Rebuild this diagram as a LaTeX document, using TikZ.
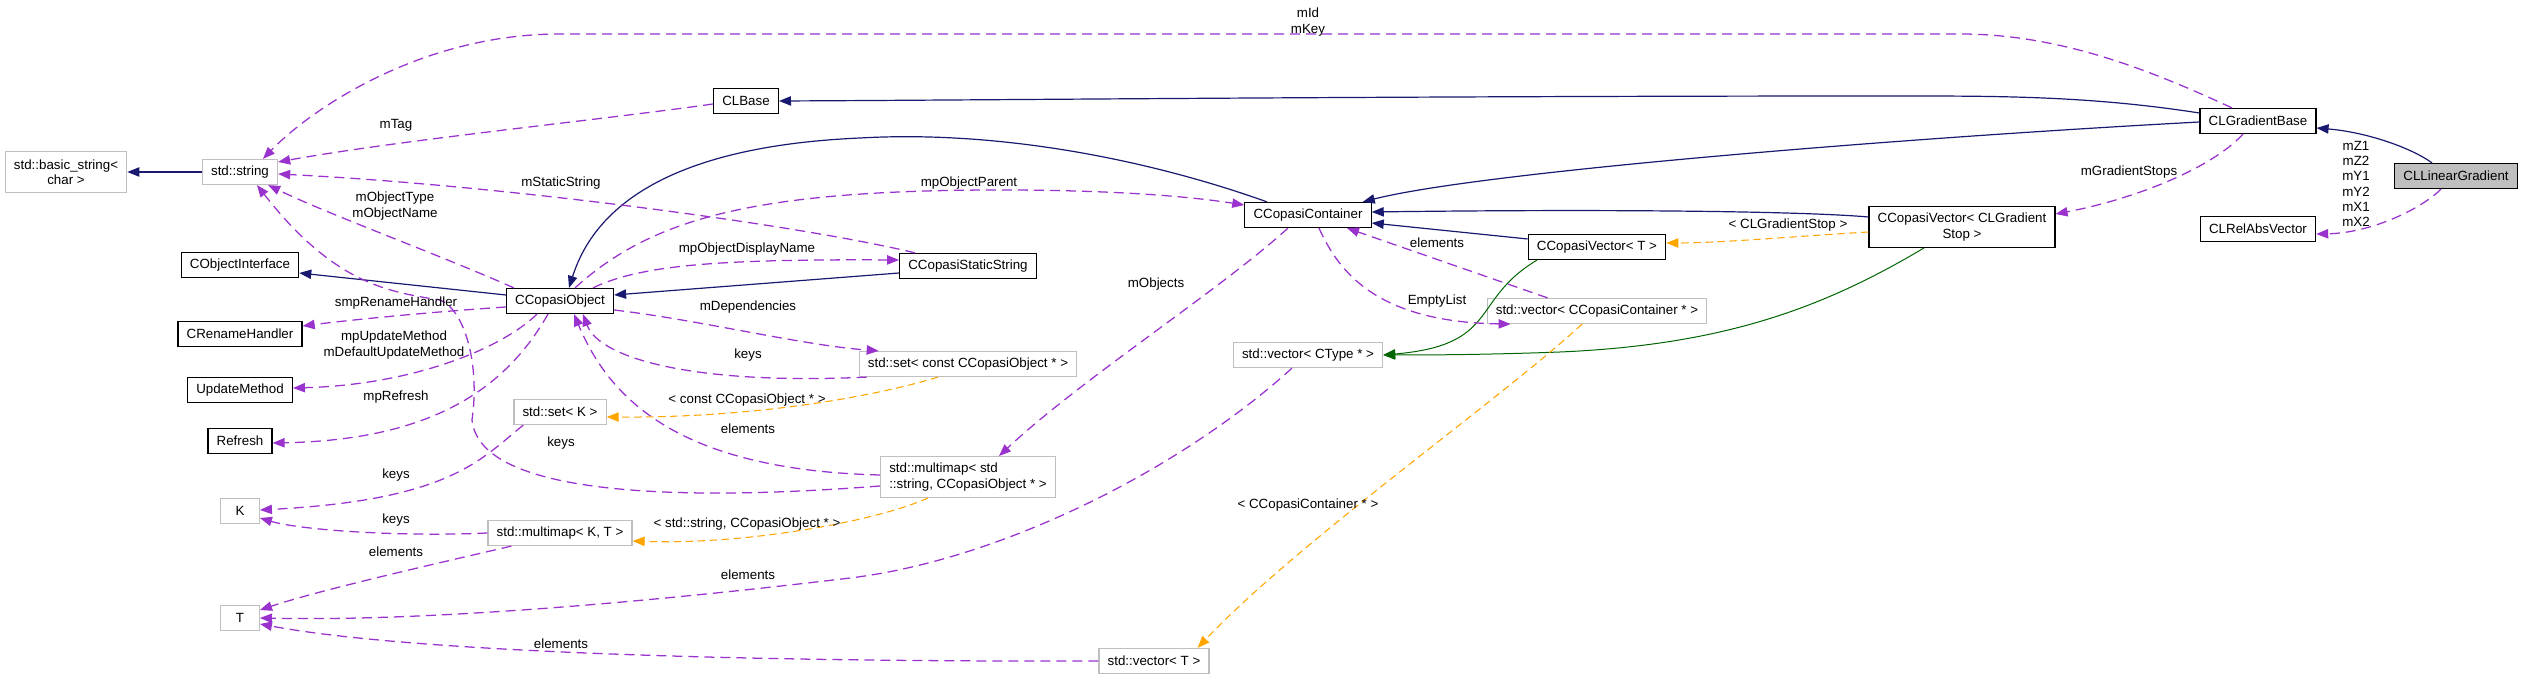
\documentclass[tikz,border=0pt]{standalone}
\usepackage{fontspec}
\setmainfont{Liberation Sans}
\usepackage{tikz}
\usetikzlibrary{arrows.meta,calc}

\definecolor{inhblue}{HTML}{191970}
\definecolor{usepurple}{HTML}{9A32CD}
\definecolor{tplorange}{HTML}{FFA500}
\definecolor{protgreen}{HTML}{006400}
\definecolor{tplgray}{HTML}{BFBFBF}

\begin{document}
\begin{tikzpicture}[
    x=0.75pt, y=-0.75pt,
    every node/.style={font=\fontsize{10}{11.5}\selectfont},
    cls/.style={draw=black, line width=0.9pt, fill=white, minimum height=18.75pt, inner xsep=6.5pt, inner ysep=2pt, align=center},
    tpl/.style={cls, draw=tplgray},
    cur/.style={cls, fill=tplgray},
    lbl/.style={align=center, inner sep=1pt},
    inh/.style={draw=inhblue, line width=0.9pt, -{Triangle[length=9pt,width=7pt]}},
    prot/.style={inh, draw=protgreen, line width=0.75pt},
    use/.style={draw=usepurple, line width=0.95pt, dash pattern=on 7.5pt off 4.5pt, -{Triangle[length=9pt,width=7pt]}},
    tplarg/.style={use, draw=tplorange, line width=0.8pt, dash pattern=on 5.5pt off 3.5pt}
]
\useasboundingbox (0,0) rectangle (2523,680);

% classes
\node[tpl, minimum height=30.5pt] (bstr) at (66,172) {std::basic\_string<\\char >};
\node[tpl] (str) at (240,172) {std::string};
\node[cls] (clbase) at (746,101) {CLBase};
\node[cls] (coi) at (240,265) {CObjectInterface};
\node[cls] (cobj) at (560,301) {CCopasiObject};
\node[cls] (crh) at (240,334) {CRenameHandler};
\node[cls] (upd) at (240,390) {UpdateMethod};
\node[cls] (refr) at (240,441) {Refresh};
\node[tpl, minimum width=29pt] (kk) at (240,511) {K};
\node[tpl, minimum width=29pt] (tt) at (240,618) {T};
\node[tpl] (setk) at (560,412) {std::set< K >};
\node[tpl] (mmkt) at (560,533) {std::multimap< K, T >};
\node[cls] (cstat) at (968,266) {CCopasiStaticString};
\node[tpl] (setc) at (968,364) {std::set< const CCopasiObject * >};
\node[tpl, align=left, minimum height=30.5pt] (mmstr) at (968,477) {std::multimap< std\\::string, CCopasiObject * >};
\node[tpl] (vt) at (1154,661) {std::vector< T >};
\node[cls] (ccont) at (1308,215) {CCopasiContainer};
\node[tpl] (vctype) at (1308,355) {std::vector< CType * >};
\node[cls] (cvt) at (1597,247) {CCopasiVector< T >};
\node[tpl] (vcc) at (1597,311) {std::vector< CCopasiContainer * >};
\node[cls, minimum height=30.5pt] (cvgs) at (1962,227) {CCopasiVector< CLGradient\\Stop >};
\node[cls] (cgb) at (2258,121) {CLGradientBase};
\node[cls] (crav) at (2258,229) {CLRelAbsVector};
\node[cur] (lin) at (2456,176) {CLLinearGradient};

% public inheritance
\draw[inh] (str.west) -- (bstr.east);
\draw[inh] ($(lin.north)+(-24,0)$) .. controls (2410,147) and (2365,132) .. ($(cgb.east)+(0,7)$);
\draw[inh] ($(cgb.west)+(0,-8)$) .. controls (2090,96) and (2000,96) .. (1900,96) .. controls (1400,96) and (1000,100) .. (clbase.east);
\draw[inh] ($(cgb.west)+(0,1)$) .. controls (1900,138) and (1480,172) .. ($(ccont.north east)+(-9,0)$);
\draw[inh] ($(cvgs.west)+(0,-10)$) .. controls (1800,211) and (1600,209) .. ($(ccont.east)+(0,-3)$);
\draw[inh] ($(cvt.west)+(0,-8)$) -- ($(ccont.east)+(0,8)$);
\draw[inh] ($(ccont.north)+(-41,0)$) .. controls (1150,160) and (1000,130) .. (860,138) .. controls (700,145) and (600,190) .. ($(cobj.north)+(9,0)$);
\draw[inh] ($(cstat.west)+(0,7)$) -- ($(cobj.east)+(0,-6)$);
\draw[inh] ($(cobj.west)+(0,-6)$) -- ($(coi.east)+(0,8)$);

% protected inheritance
\draw[prot] ($(cvgs.south)+(-38,0)$) .. controls (1820,310) and (1720,345) .. (1560,352) .. controls (1480,355) and (1420,355) .. (vctype.east);
\draw[prot] ($(cvt.south)+(-60,0)$) .. controls (1470,300) and (1500,345) .. (vctype.east);

% usage
\draw[use] ($(lin.south)+(-15,0)$) .. controls (2420,210) and (2370,233) .. ($(crav.east)+(0,5)$);
\draw[use] ($(cgb.north)+(-26,0)$) .. controls (2150,70) and (2060,34) .. (1960,34) -- (560,34) .. controls (420,34) and (310,110) .. ($(str.north)+(23,0)$);
\draw[use] ($(cgb.south)+(-15,0)$) .. controls (2210,170) and (2130,200) .. ($(cvgs.east)+(0,-13)$);
\draw[use] ($(clbase.west)+(0,3)$) .. controls (600,120) and (400,140) .. ($(str.east)+(0,-10)$);
\draw[use] ($(cstat.north west)+(16,0)$) .. controls (800,225) and (500,185) .. ($(str.east)+(0,2)$);
\draw[use] ($(cobj.north west)+(8,0)$) .. controls (440,255) and (330,215) .. ($(str.south east)+(-10,0)$);
\draw[use] ($(cobj.north)+(15,0)$) .. controls (650,220) and (750,190) .. (1000,190) .. controls (1100,190) and (1180,195) .. ($(ccont.west)+(0,-10)$);
\draw[use] ($(cobj.north)+(33,0)$) .. controls (640,265) and (720,259) .. ($(cstat.west)+(0,-6)$);
\draw[use] ($(cobj.east)+(0,9)$) .. controls (700,320) and (800,345) .. ($(setc.north west)+(20,0)$);
\draw[use] ($(cobj.west)+(0,6)$) .. controls (430,312) and (350,320) .. ($(crh.east)+(0,-8)$);
\draw[use] ($(cobj.south)+(-23,0)$) .. controls (500,350) and (410,385) .. ($(upd.east)+(0,-2)$);
\draw[use] ($(cobj.south)+(-12,0)$) .. controls (505,390) and (430,440) .. ($(refr.east)+(0,2)$);
\draw[use] ($(setc.south west)+(8,0)$) .. controls (700,385) and (600,360) .. ($(cobj.south)+(23,0)$);
\draw[use] ($(mmstr.west)+(0,-2)$) .. controls (680,470) and (610,400) .. ($(cobj.south)+(14,0)$);
\draw[use] ($(mmstr.west)+(0,9)$) .. controls (700,500) and (480,500) .. (472,420) .. controls (480,365) and (465,310) .. (440,300) .. controls (390,292) and (335,285) .. ($(str.south)+(17,0)$);
\draw[use] ($(setk.south west)+(10,0)$) .. controls (480,460) and (450,500) .. ($(kk.east)+(0,-1)$);
\draw[use] (mmkt.west) .. controls (400,537) and (300,530) .. ($(kk.east)+(0,7)$);
\draw[use] ($(mmkt.south west)+(24,0)$) .. controls (430,565) and (320,590) .. ($(tt.east)+(0,-8)$);
\draw[use] ($(vctype.south)+(-16,0)$) .. controls (1180,470) and (1000,560) .. (850,578) .. controls (700,596) and (450,622) .. (tt.east);
\draw[use] (vt.west) .. controls (700,662) and (400,650) .. ($(tt.east)+(0,6)$);
\draw[use] ($(ccont.south)+(-20,0)$) .. controls (1220,290) and (1080,380) .. ($(mmstr.north)+(31,0)$);
\draw[use] ($(ccont.south)+(11,0)$) .. controls (1340,275) and (1380,322) .. ($(vcc.south west)+(24,0)$);
\draw[use] ($(vcc.north west)+(61,0)$) -- ($(ccont.south)+(39,0)$);

% template arguments
\draw[tplarg] ($(cvgs.west)+(0,5)$) .. controls (1800,236) and (1720,243) .. ($(cvt.east)+(0,-4)$);
\draw[tplarg] ($(vcc.south)+(-15,0)$) .. controls (1500,400) and (1300,540) .. ($(vt.north east)+(-12,0)$);
\draw[tplarg] ($(setc.south)+(-30,0)$) .. controls (880,395) and (760,418) .. ($(setk.east)+(0,5)$);
\draw[tplarg] ($(mmstr.south)+(-40,0)$) .. controls (880,520) and (750,545) .. ($(mmkt.east)+(0,8)$);

% labels
\node[lbl] (lidkey) at (1308,22) {mId\\mKey};
\node[lbl] (ltag) at (396,125) {mTag};
\node[lbl] (lstatic) at (561,183) {mStaticString};
\node[lbl] (ltypename) at (395,206) {mObjectType\\mObjectName};
\node[lbl] (lparent) at (969,183) {mpObjectParent};
\node[lbl] (ldisplay) at (747,249) {mpObjectDisplayName};
\node[lbl] (lrename) at (396,303) {smpRenameHandler};
\node[lbl] (ldeps) at (748,307) {mDependencies};
\node[lbl] (lupdate) at (394,345) {mpUpdateMethod\\mDefaultUpdateMethod};
\node[lbl] (lrefresh) at (396,397) {mpRefresh};
\node[lbl] (lkeysa) at (748,355) {keys};
\node[lbl] (lconst) at (747,400) {< const CCopasiObject * >};
\node[lbl] (lelema) at (748,429) {elements};
\node[lbl] (lkeysb) at (561,443) {keys};
\node[lbl] (lkeysc) at (396,475) {keys};
\node[lbl] (lkeysd) at (396,520) {keys};
\node[lbl] (lstrobj) at (747,524) {< std::string, CCopasiObject * >};
\node[lbl] (lelemb) at (396,552) {elements};
\node[lbl] (lelemc) at (748,575) {elements};
\node[lbl] (lelemd) at (561,644) {elements};
\node[lbl] (lobjects) at (1156,284) {mObjects};
\node[lbl] (lelems) at (1437,243) {elements};
\node[lbl] (lempty) at (1437,301) {EmptyList};
\node[lbl] (lcont) at (1308,505) {< CCopasiContainer * >};
\node[lbl] (lstop) at (1788,225) {< CLGradientStop >};
\node[lbl] (lstops) at (2129,172) {mGradientStops};
\node[lbl] (lcoords) at (2356,184) {mZ1\\mZ2\\mY1\\mY2\\mX1\\mX2};
\end{tikzpicture}
\end{document}
